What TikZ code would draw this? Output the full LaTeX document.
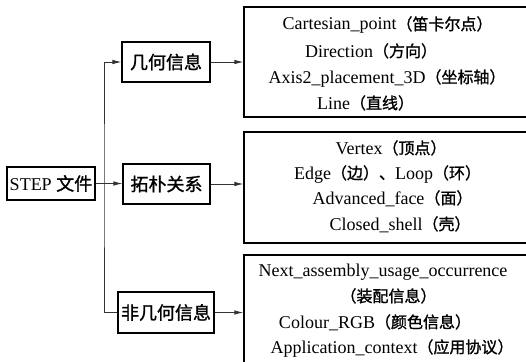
\documentclass[tikz,border=0pt]{standalone}
\usepackage{fontspec}
\setmainfont{Liberation Serif}
\newfontfamily\cjk[FakeBold=1.2]{Noto Sans CJK SC}
\usetikzlibrary{arrows.meta}
% Chinese run inside the list boxes (slightly smaller than the Latin text)
\newcommand{\zh}[1]{{\cjk\fontsize{16}{20}\selectfont #1}}

\begin{document}
\begin{tikzpicture}[x=1pt,y=-1pt,
  catbox/.style={draw, line width=1.1pt, inner sep=0pt, minimum height=40pt,
                 font=\cjk\fontsize{18}{22}\selectfont},
  listbox/.style={draw, line width=1.3pt, inner sep=0pt, minimum width=286pt},
  entry/.style={inner sep=0pt, text height=13pt, text depth=1pt,
                font=\fontsize{18}{22}\selectfont},
  link/.style={line width=0.8pt, black!80, -{Latex[length=9pt,width=4.5pt]}}]
\useasboundingbox (0,0) rectangle (526,361);
\clip (0,0) rectangle (526,361);

% root and the three categories
\node[draw, line width=1.1pt, inner sep=0pt, minimum width=88pt, minimum height=33pt,
      font=\fontsize{18}{22}\selectfont] (step) at (51,183.5) {STEP {\cjk 文件}};
\node[catbox, minimum width=88pt] (geo) at (166,62) {几何信息};
\node[catbox, minimum width=87pt] (topo) at (166.5,184) {拓朴关系};
\node[catbox, minimum width=96pt, minimum height=41pt] (nongeo) at (166,312.5) {非几何信息};

% entity lists
\node[listbox, minimum height=110pt] (geolist) at (387,62) {};
\node[listbox, minimum height=111pt] (topolist) at (387,187.5) {};
\node[listbox, minimum height=115pt] (nonlist) at (387,312.5) {};

\node[entry] (g1) at (387.5,24) {Cartesian\_point\zh{（笛卡尔点）}};
\node[entry] (g2) at (371,51) {Direction\zh{（方向）}};
\node[entry] (g3) at (387,77) {Axis2\_placement\_3D\zh{（坐标轴）}};
\node[entry] (g4) at (365.5,103) {Line\zh{（直线）}};

\node[entry] (t1) at (391,148) {Vertex\zh{（顶点）}};
\node[entry] (t2) at (387.5,173) {Edge\zh{（边）、}Loop\zh{（环）}};
\node[entry] (t3) at (392.5,198) {Advanced\_face\zh{（面）}};
\node[entry] (t4) at (400,224) {Closed\_shell\zh{（壳）}};

\node[entry] (n1) at (383,270) {Next\_assembly\_usage\_occurrence};
\node[entry] (n2) at (388.5,296) {\zh{（装配信息）}};
\node[entry] (n3) at (375,322) {Colour\_RGB\zh{（颜色信息）}};
\node[entry] (n4) at (392,347) {Application\_context\zh{（应用协议）}};

% connectors
\coordinate (trunk) at (104,184);
\draw[link] (nongeo.west) -| (trunk) |- (geo.west);
\draw[link] (step.east) -- (step.east -| topo.west);
\draw[link] (geo.east) -- (geo.east -| geolist.west);
\draw[link] (topo.east) -- (topo.east -| topolist.west);
\draw[link] (nongeo.east) -- (nongeo.east -| nonlist.west);
\end{tikzpicture}
\end{document}
